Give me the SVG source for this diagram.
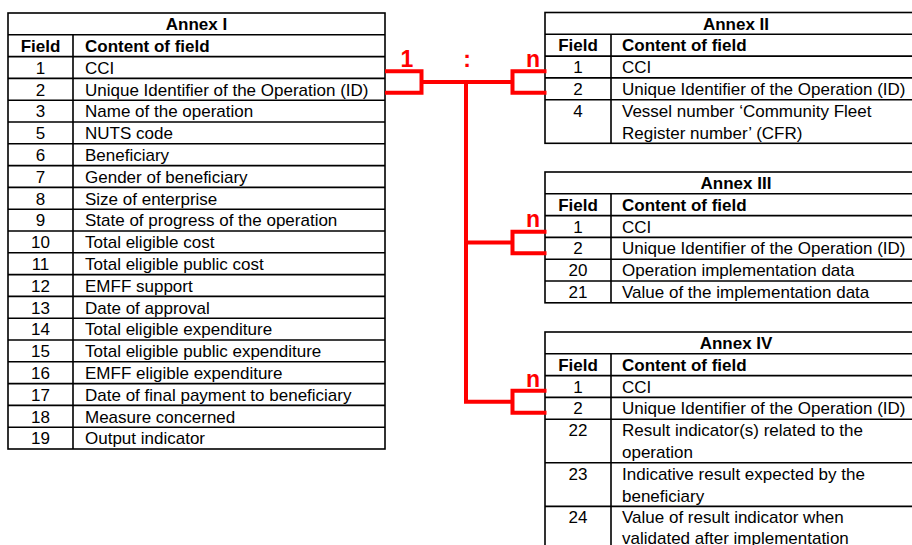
<svg xmlns="http://www.w3.org/2000/svg" width="912" height="545" viewBox="0 0 912 545">
<style>
.bd{fill:none;stroke:#000;stroke-width:1.6}
text{font-family:"Liberation Sans",Arial,sans-serif;font-size:17px;fill:#000}
.h{font-weight:bold}
.c{text-anchor:middle}
.red{fill:none;stroke:#f00;stroke-width:4;stroke-linejoin:miter;stroke-linecap:butt}
.lbl{fill:#f00;font-weight:bold;font-size:23px;text-anchor:middle}
</style>
<rect width="912" height="545" fill="#fff"/>

<g id="annex1">
<rect class="bd" x="8" y="13" width="377" height="436"/>
<path class="bd" d="M8,34.8H385M8,56.6H385M8,78.4H385M8,100.2H385M8,122H385M8,143.8H385M8,165.6H385M8,187.4H385M8,209.2H385M8,231H385M8,252.8H385M8,274.6H385M8,296.4H385M8,318.2H385M8,340H385M8,361.8H385M8,383.6H385M8,405.4H385M8,427.2H385M73,34.8V449"/>
<text class="h c" x="196.5" y="30.1">Annex I</text>
<text class="h c" x="40.5" y="51.9">Field</text>
<text class="h" x="85" y="51.9">Content of field</text>
<text class="c" x="40.5" y="73.7">1</text><text x="85" y="73.7">CCI</text>
<text class="c" x="40.5" y="95.5">2</text><text x="85" y="95.5">Unique Identifier of the Operation (ID)</text>
<text class="c" x="40.5" y="117.3">3</text><text x="85" y="117.3">Name of the operation</text>
<text class="c" x="40.5" y="139.1">5</text><text x="85" y="139.1">NUTS code</text>
<text class="c" x="40.5" y="160.9">6</text><text x="85" y="160.9">Beneficiary</text>
<text class="c" x="40.5" y="182.7">7</text><text x="85" y="182.7">Gender of beneficiary</text>
<text class="c" x="40.5" y="204.5">8</text><text x="85" y="204.5">Size of enterprise</text>
<text class="c" x="40.5" y="226.3">9</text><text x="85" y="226.3">State of progress of the operation</text>
<text class="c" x="40.5" y="248.1">10</text><text x="85" y="248.1">Total eligible cost</text>
<text class="c" x="40.5" y="269.9">11</text><text x="85" y="269.9">Total eligible public cost</text>
<text class="c" x="40.5" y="291.7">12</text><text x="85" y="291.7">EMFF support</text>
<text class="c" x="40.5" y="313.5">13</text><text x="85" y="313.5">Date of approval</text>
<text class="c" x="40.5" y="335.3">14</text><text x="85" y="335.3">Total eligible expenditure</text>
<text class="c" x="40.5" y="357.1">15</text><text x="85" y="357.1">Total eligible public expenditure</text>
<text class="c" x="40.5" y="378.9">16</text><text x="85" y="378.9">EMFF eligible expenditure</text>
<text class="c" x="40.5" y="400.7">17</text><text x="85" y="400.7">Date of final payment to beneficiary</text>
<text class="c" x="40.5" y="422.5">18</text><text x="85" y="422.5">Measure concerned</text>
<text class="c" x="40.5" y="444.3">19</text><text x="85" y="444.3">Output indicator</text>
</g>

<g id="annex2">
<rect class="bd" x="545" y="12.5" width="382" height="130.8"/>
<path class="bd" d="M545,34.3H927M545,56.1H927M545,77.9H927M545,99.7H927M611,34.3V143.3"/>
<text class="h c" x="736" y="29.6">Annex II</text>
<text class="h c" x="578" y="51.4">Field</text>
<text class="h" x="622" y="51.4">Content of field</text>
<text class="c" x="578" y="73.2">1</text><text x="622" y="73.2">CCI</text>
<text class="c" x="578" y="95">2</text><text x="622" y="95">Unique Identifier of the Operation (ID)</text>
<text class="c" x="578" y="116.8">4</text><text x="622" y="116.8">Vessel number ‘Community Fleet</text>
<text x="622" y="138.6">Register number’ (CFR)</text>
</g>

<g id="annex3">
<rect class="bd" x="545" y="172" width="382" height="130.8"/>
<path class="bd" d="M545,193.8H927M545,215.6H927M545,237.4H927M545,259.2H927M545,281H927M611,193.8V302.8"/>
<text class="h c" x="736" y="188.9">Annex III</text>
<text class="h c" x="578" y="210.7">Field</text>
<text class="h" x="622" y="210.7">Content of field</text>
<text class="c" x="578" y="232.5">1</text><text x="622" y="232.5">CCI</text>
<text class="c" x="578" y="254.3">2</text><text x="622" y="254.3">Unique Identifier of the Operation (ID)</text>
<text class="c" x="578" y="276.1">20</text><text x="622" y="276.1">Operation implementation data</text>
<text class="c" x="578" y="297.9">21</text><text x="622" y="297.9">Value of the implementation data</text>
</g>

<g id="annex4">
<rect class="bd" x="545" y="332" width="382" height="218"/>
<path class="bd" d="M545,353.8H927M545,375.6H927M545,397.4H927M545,419.2H927M545,462.8H927M545,506.4H927M611,353.8V550"/>
<text class="h c" x="736" y="348.9">Annex IV</text>
<text class="h c" x="578" y="370.7">Field</text>
<text class="h" x="622" y="370.7">Content of field</text>
<text class="c" x="578" y="392.5">1</text><text x="622" y="392.5">CCI</text>
<text class="c" x="578" y="414.3">2</text><text x="622" y="414.3">Unique Identifier of the Operation (ID)</text>
<text class="c" x="578" y="436.1">22</text><text x="622" y="436.1">Result indicator(s) related to the</text>
<text x="622" y="457.9">operation</text>
<text class="c" x="578" y="479.7">23</text><text x="622" y="479.7">Indicative result expected by the</text>
<text x="622" y="501.5">beneficiary</text>
<text class="c" x="578" y="523.3">24</text><text x="622" y="523.3">Value of result indicator when</text>
<text x="622" y="544">validated after implementation</text>
</g>

<g id="connectors">
<path class="red" d="M385,71.3H421.5V92.8H385M421.5,82H512.5M546.5,71.3H512.5V92.8H546.5"/>
<path class="red" d="M466,82V401.7H512.5M466,242.5H512.5"/>
<path class="red" d="M546.5,231.7H512.5V253.3H546.5M546.5,390.7H512.5V412.7H546.5"/>
<text class="lbl" x="407" y="66.7">1</text>
<text class="lbl" x="467" y="66.7">:</text>
<text class="lbl" x="533" y="66.7">n</text>
<text class="lbl" x="533" y="227.3">n</text>
<text class="lbl" x="533" y="387.3">n</text>
</g>
</svg>
